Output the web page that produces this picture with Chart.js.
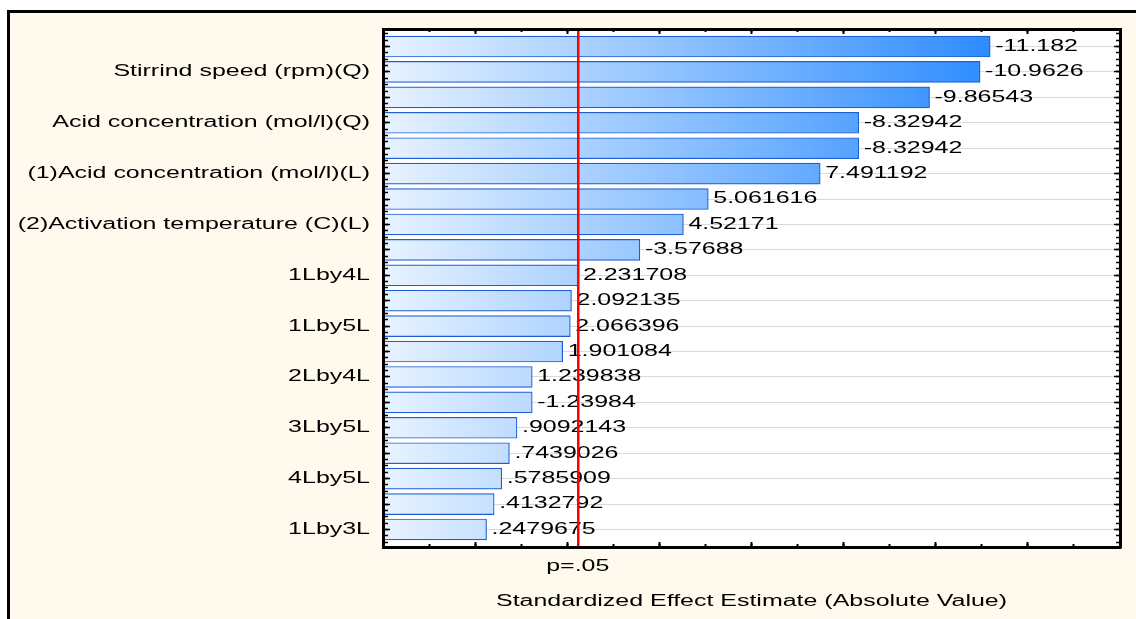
<!DOCTYPE html>
<html>
<head>
<meta charset="utf-8">
<title>Pareto Chart of Standardized Effects</title>
<script src="https://cdn.jsdelivr.net/npm/chart.js@4.4.1/dist/chart.umd.min.js"></script>
<style>
  html, body { margin: 0; padding: 0; background: #ffffff; width: 1136px; height: 619px; overflow: hidden; }
  #frame { position: absolute; left: 7px; top: 10px; width: 1140px; height: 620px;
           background: #FFF9EE; border-left: 3px solid #000; border-top: 3px solid #000; }
  #wrap { position: absolute; left: 0; top: 0; width: 1136px; height: 619px; }
  canvas { display: block; }
</style>
</head>
<body>
<div id="frame"></div>
<div id="wrap"><canvas id="pareto" width="1136" height="619"></canvas></div>
<script>
// Effect names (only every other one is printed on the axis)
const categories = [
  '', 'Stirrind speed (rpm)(Q)',
  '', 'Acid concentration (mol/l)(Q)',
  '', '(1)Acid concentration (mol/l)(L)',
  '', '(2)Activation temperature (C)(L)',
  '', '1Lby4L',
  '', '1Lby5L',
  '', '2Lby4L',
  '', '3Lby5L',
  '', '4Lby5L',
  '', '1Lby3L'
];

// Standardized effect estimates (signed); bar length is the absolute value
const effects = [
  -11.182, -10.9626, -9.86543, -8.32942, -8.32942,
  7.491192, 5.061616, 4.52171, -3.57688, 2.231708,
  2.092135, 2.066396, 1.901084, 1.239838, -1.23984,
  0.9092143, 0.7439026, 0.5785909, 0.4132792, 0.2479675
];

// Critical t value for p = .05
const pCritical = 2.228;
const pLabel = 'p=.05';
const axisTitle = 'Standardized Effect Estimate (Absolute Value)';

// Value axis range and tick marks
const xRange = [-2, 14];
const xMajorTicks = [-2, 0, 2, 4, 6, 8, 10, 12, 14];
const xMinorTicks = [-2, -1, 0, 1, 2, 3, 4, 5, 6, 7, 8, 9, 10, 11, 12, 13, 14];

// Category axis range (index units) and tick marks
const yRange = [-0.69, categories.length - 0.31];
const yMajorTicks = categories.map((_, i) => i);
const yMinorTicks = [];
for (let q = -2; q <= (categories.length - 1) * 4 + 2; q++) yMinorTicks.push(q / 4);

const FONT = '"Liberation Sans", Arial, sans-serif';
const TEXT_STRETCH = 1.56;

const canvas = document.getElementById('pareto');
const ctx2d = canvas.getContext('2d');

// Wide lettering: every label is drawn horizontally expanded around its anchor
(function widenText(ctx) {
  const fill = ctx.fillText;
  ctx.fillText = function (text, x, y, maxWidth) {
    this.save();
    this.translate(x, y);
    this.scale(TEXT_STRETCH, 1);
    if (maxWidth === undefined) fill.call(this, text, 0, 0);
    else fill.call(this, text, 0, 0, maxWidth / TEXT_STRETCH);
    this.restore();
  };
})(ctx2d);

Chart.defaults.font.family = FONT;
Chart.defaults.font.size = 16;
Chart.defaults.color = '#000';

function formatEffect(v) {
  return String(v).replace(/^(-?)0\./, '$1.');
}

let gradientCache = null;
function barGradient(chart) {
  const a = chart.chartArea;
  if (!a) return '#7ab6ff';
  const key = a.left + ':' + a.right;
  if (gradientCache && gradientCache.key === key) return gradientCache.g;
  const g = chart.ctx.createLinearGradient(a.left, 0, a.right, 0);
  g.addColorStop(0, '#E8F3FF');
  g.addColorStop(0.825, '#2D8CFF');
  g.addColorStop(1, '#0A78FF');
  gradientCache = { key, g };
  return g;
}

// Tick-mark-only axis (inward ticks, no labels, no size in the layout)
function markAxis(position, values, length, width, withBorder) {
  const horizontal = position === 'top' || position === 'bottom';
  return {
    type: 'linear',
    position,
    weight: 0,
    offset: false,
    bounds: 'data',
    min: horizontal ? xRange[0] : yRange[0],
    max: horizontal ? xRange[1] : yRange[1],
    reverse: !horizontal,
    afterBuildTicks: s => { s.ticks = values.map(v => ({ value: v })); },
    afterFit: s => { if (horizontal) s.height = 0; else s.width = 0; },
    ticks: { display: false },
    grid: {
      offset: false, drawOnChartArea: false, drawTicks: true,
      tickLength: -length, tickWidth: width, tickColor: '#000', z: 1
    },
    border: withBorder ? { display: true, color: '#000', width: 3, z: 2 } : { display: false }
  };
}

const plotBackground = {
  id: 'plotBackground',
  beforeDraw(chart) {
    const { ctx, chartArea: a } = chart;
    ctx.save();
    ctx.fillStyle = '#ffffff';
    ctx.fillRect(a.left, a.top, a.right - a.left, a.bottom - a.top);
    ctx.restore();
  }
};

const effectLabels = {
  id: 'effectLabels',
  afterDatasetsDraw(chart) {
    const { ctx } = chart;
    const meta = chart.getDatasetMeta(0);
    ctx.save();
    ctx.font = '16px ' + FONT;
    ctx.fillStyle = '#000';
    ctx.textAlign = 'left';
    ctx.textBaseline = 'middle';
    meta.data.forEach((bar, i) => {
      ctx.fillText(formatEffect(effects[i]), bar.x + 5, bar.y);
    });
    ctx.restore();
  }
};

new Chart(canvas, {
  type: 'bar',
  data: {
    datasets: [{
      data: effects.map((v, i) => ({ x: Math.abs(v), y: i })),
      base: xRange[0],
      barThickness: 21,
      backgroundColor: c => barGradient(c.chart),
      borderColor: '#1F5ED2',
      borderWidth: 1.2,
      borderSkipped: 'start'
    }]
  },
  options: {
    indexAxis: 'y',
    responsive: false,
    animation: false,
    layout: { padding: { left: 0, top: 29, right: 16, bottom: 0 } },
    plugins: { legend: { display: false }, tooltip: { enabled: false } },
    scales: {
      y: {
        type: 'linear',
        position: 'left',
        weight: 1,
        offset: false,
        bounds: 'data',
        min: yRange[0],
        max: yRange[1],
        reverse: true,
        afterBuildTicks: s => { s.ticks = yMajorTicks.map(v => ({ value: v })); },
        afterFit: s => { s.width = 383; },
        ticks: {
          autoSkip: false,
          padding: 13,
          color: '#000',
          font: { family: FONT, size: 16 },
          callback: v => categories[v] ?? ''
        },
        grid: { offset: false, drawOnChartArea: true, drawTicks: false, color: '#d9d9d9', lineWidth: 1 },
        border: { display: true, color: '#000', width: 3, z: 2 }
      },
      yMajorL: markAxis('left', yMajorTicks, 7, 1.5, false),
      yMinorL: markAxis('left', yMinorTicks, 5, 1.5, false),
      yMajorR: markAxis('right', yMajorTicks, 6, 1.5, true),
      yMinorR: markAxis('right', yMinorTicks, 4, 1.5, false),
      x: markAxis('bottom', xMinorTicks, 3, 2, true),
      xMajorB: markAxis('bottom', xMajorTicks, 5, 2, false),
      xMinorT: markAxis('top', xMinorTicks, 3, 2, true),
      xMajorT: markAxis('top', xMajorTicks, 5, 2, false),
      xCrit: {
        type: 'linear',
        position: 'bottom',
        weight: 1,
        bounds: 'data',
        min: xRange[0],
        max: xRange[1],
        afterBuildTicks: s => { s.ticks = [{ value: pCritical }]; },
        afterFit: s => { s.height = 72; },
        ticks: {
          autoSkip: false,
          maxRotation: 0,
          padding: 10,
          color: '#000',
          font: { family: FONT, size: 16 },
          callback: () => pLabel
        },
        grid: { drawOnChartArea: true, drawTicks: false, color: '#ff0000', lineWidth: 2.5, z: 1 },
        border: { display: false },
        title: {
          display: true,
          text: axisTitle,
          color: '#000',
          font: { family: FONT, size: 16 },
          padding: { top: 0, bottom: 8 }
        }
      }
    }
  },
  plugins: [plotBackground, effectLabels]
});
</script>
</body>
</html>
